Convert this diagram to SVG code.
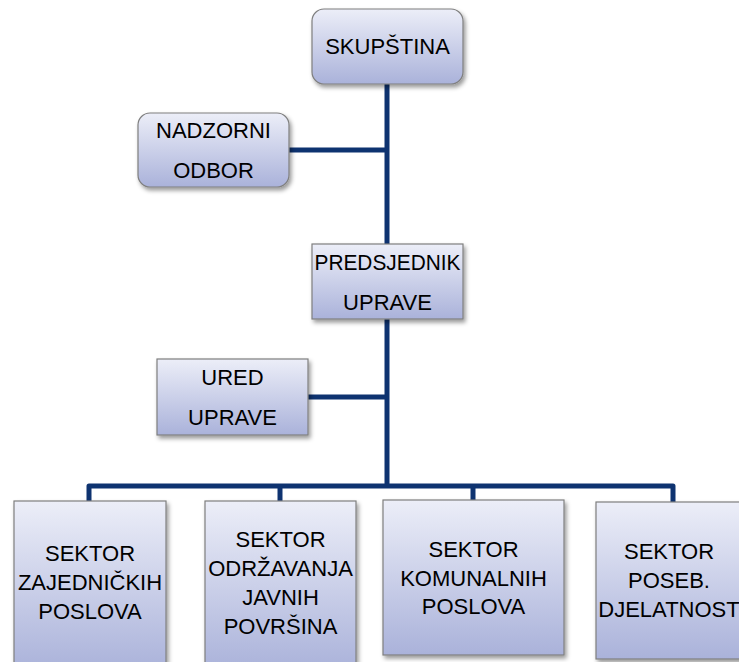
<svg xmlns="http://www.w3.org/2000/svg" width="739" height="662" viewBox="0 0 739 662">
<style>
.box{fill:url(#g);stroke:#7f7f7f;stroke-width:1.2;filter:url(#sh)}
.t{font-family:"Liberation Sans",Arial,sans-serif;font-size:22px;fill:#000;text-anchor:middle}
.c{fill:none;stroke:#0e3370;stroke-width:5;stroke-linejoin:round}
</style>
<defs>
<linearGradient id="g" x1="0" y1="0" x2="0" y2="1">
<stop offset="0" stop-color="#eceef8"/>
<stop offset="1" stop-color="#aab2da"/>
</linearGradient>
<filter id="sh" x="-10%" y="-10%" width="125%" height="130%">
<feDropShadow dx="2" dy="3" stdDeviation="2" flood-color="#000" flood-opacity="0.4"/>
</filter>
</defs>
<g id="connectors">
<path class="c" d="M387 84 V486"/>
<path class="c" d="M289 150 H387"/>
<path class="c" d="M308 397 H387"/>
<path class="c" d="M89 501 V486 H673 V502"/>
<path class="c" d="M280 501 V486"/>
<path class="c" d="M473 500 V486"/>
</g>
<g id="skupstina">
<rect class="box" x="312" y="9" width="151" height="75" rx="12"/>
<text class="t" x="387.5" y="54">SKUPŠTINA</text>
</g>
<g id="nadzorni-odbor">
<rect class="box" x="138" y="113" width="151" height="74" rx="12"/>
<text class="t" x="213.5" y="138">NADZORNI</text>
<text class="t" x="213.5" y="178">ODBOR</text>
</g>
<g id="predsjednik-uprave">
<rect class="box" x="312" y="244" width="151" height="75"/>
<text class="t" x="387.5" y="270" textLength="146" lengthAdjust="spacingAndGlyphs">PREDSJEDNIK</text>
<text class="t" x="387.5" y="310">UPRAVE</text>
</g>
<g id="ured-uprave">
<rect class="box" x="157" y="359" width="151" height="76"/>
<text class="t" x="232.5" y="385">URED</text>
<text class="t" x="232.5" y="425">UPRAVE</text>
</g>
<g id="sektor-zajednickih">
<rect class="box" x="14" y="501" width="152" height="170"/>
<text class="t" x="90" y="561">SEKTOR</text>
<text class="t" x="90" y="590">ZAJEDNIČKIH</text>
<text class="t" x="90" y="619">POSLOVA</text>
</g>
<g id="sektor-odrzavanja">
<rect class="box" x="205" y="501" width="151" height="170"/>
<text class="t" x="280.5" y="547">SEKTOR</text>
<text class="t" x="280.5" y="576">ODRŽAVANJA</text>
<text class="t" x="280.5" y="605">JAVNIH</text>
<text class="t" x="280.5" y="634">POVRŠINA</text>
</g>
<g id="sektor-komunalnih">
<rect class="box" x="383" y="500" width="181" height="155"/>
<text class="t" x="473.5" y="557">SEKTOR</text>
<text class="t" x="473.5" y="586">KOMUNALNIH</text>
<text class="t" x="473.5" y="614">POSLOVA</text>
</g>
<g id="sektor-poseb">
<rect class="box" x="596" y="502" width="150" height="157"/>
<text class="t" x="669" y="559">SEKTOR</text>
<text class="t" x="669" y="588">POSEB.</text>
<text class="t" x="669" y="617">DJELATNOST</text>
</g>
</svg>
